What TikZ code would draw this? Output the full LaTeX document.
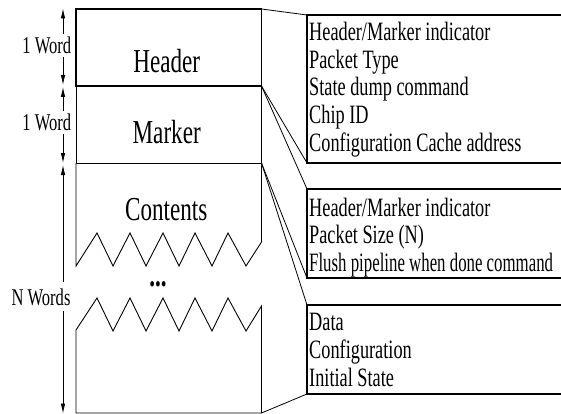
\documentclass[tikz,border=0pt]{standalone}
\usepackage{fontspec}
\setmainfont{Liberation Serif}[FakeStretch=0.69]
\usetikzlibrary{arrows.meta}
\tikzset{
  thickbox/.style={draw, line width=1.5pt, inner sep=0pt, outer sep=0pt, anchor=north west, minimum width=185.5pt, minimum height=77pt},
  thinbox/.style={draw, line width=0.9pt, inner sep=0pt, outer sep=0pt, anchor=north west, minimum width=185.5pt, minimum height=77pt},
  infobox/.style={inner sep=0pt, outer sep=0pt, anchor=north west, minimum width=300pt},
  openside/.style={line width=1.1pt},
  conn/.style={line width=0.8pt},
  bigtext/.style={inner sep=0pt, anchor=base, font=\fontsize{33.5pt}{36pt}\selectfont},
  infotext/.style={inner sep=0pt, anchor=base west, font=\fontsize{26.5pt}{27.7pt}\selectfont},
  sizetext/.style={inner sep=3pt, fill=white, anchor=base, font=\fontsize{24pt}{26pt}\selectfont},
  dimarrow/.style={line width=0.8pt, {Latex[length=10pt,width=4.5pt]}-{Latex[length=10pt,width=4.5pt]}},
}
\begin{document}
\begin{tikzpicture}[x=1pt,y=-1pt]
\useasboundingbox (0,0) rectangle (561,414);
\begin{scope}
\clip (0,0) rectangle (561,414);
% left packet structure
\node[thinbox] (mrk) at (76,86) {};
\node[thickbox] (hdr) at (76,9) {};
\coordinate (cBR) at (261.5,413);
\draw[line width=0.9pt] (mrk.south west) -- (76,266) -- (97,233) -- (113,266) -- (130,233) -- (146,266)
  -- (163,233) -- (179,266) -- (195,233) -- (212,266) -- (228,233) -- (246,266) -- (261.5,242) -- (mrk.south east);
\draw[line width=0.9pt] (76,330) -- (97,298) -- (113,331) -- (130,298) -- (146,331) -- (163,298)
  -- (179,331) -- (195,298) -- (212,331) -- (228,298) -- (246,331) -- (261.5,306) -- (cBR) -- (76,413) -- cycle;
\node[bigtext] (hdrt) at (166.7,73) {Header};
\node[bigtext] (mrkt) at (166.7,143.3) {Marker};
\node[bigtext] (cntt) at (166.3,220) {Contents};
\node[bigtext] (dots) at (158,286.5) {\textbf{...}};
% dimension arrows
\coordinate (a1t) at (63,8.5);
\coordinate (a1b) at (63,85);
\coordinate (a2t) at (63,87);
\coordinate (a2b) at (63,163);
\coordinate (a3t) at (63,165);
\coordinate (a3b) at (63,413.5);
\draw[dimarrow] (a1t) -- (a1b);
\draw[dimarrow] (a2t) -- (a2b);
\draw[dimarrow] (a3t) -- (a3b);
\node[sizetext] (w1) at (46.8,54) {1 Word};
\node[sizetext] (w2) at (46.8,130.7) {1 Word};
\node[sizetext, inner ysep=6pt] (wn) at (41,305) {N Words};
% info boxes (open at the right, running off the page)
\node[infobox, minimum height=148pt] (b1) at (307,15) {};
\node[infobox, minimum height=89pt] (b2) at (307,189) {};
\node[infobox, minimum height=89pt] (b3) at (307,305) {};
\foreach \b in {b1,b2,b3}
  \draw[openside] (\b.north east) -- (\b.north west) -- (\b.south west) -- (\b.south east);
\draw[conn] (hdr.north east) -- (b1.north west);
\draw[conn] (hdr.south east) -- (b1.south west);
\draw[conn] (hdr.south east) -- (b2.north west);
\draw[conn] (mrk.south east) -- (b2.south west);
\draw[conn] (mrk.south east) -- (b3.north west);
\draw[conn] (cBR) -- (b3.south west);
% info texts
\node[infotext] (l11) at (309,40.5) {Header/Marker indicator};
\node[infotext] (l12) at (309,68.2) {Packet Type};
\node[infotext] (l13) at (309,95.9) {State dump command};
\node[infotext] (l14) at (309,123.6) {Chip ID};
\node[infotext] (l15) at (309,151.3) {Configuration Cache address};
\node[infotext] (l21) at (309,216) {Header/Marker indicator};
\node[infotext] (l22) at (309,243.7) {Packet Size (N)};
\node[infotext] (l23) at (309,271.4) {\scalebox{0.92}[1]{Flush pipeline when done command}};
\node[infotext] (l31) at (309,330.7) {Data};
\node[infotext] (l32) at (309,358.4) {Configuration};
\node[infotext] (l33) at (309,386.1) {Initial State};
\end{scope}
\end{tikzpicture}
\end{document}
